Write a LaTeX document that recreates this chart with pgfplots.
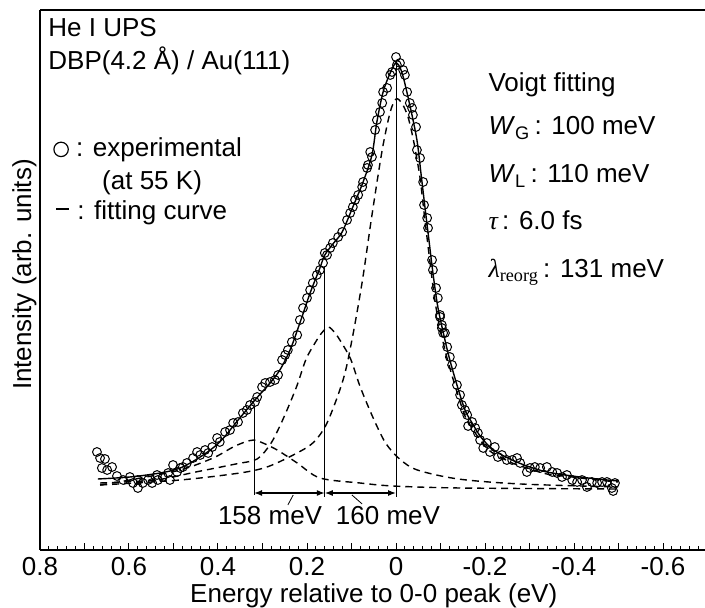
\documentclass[border=0pt]{standalone}
\usepackage{fontspec}
\setmainfont{Liberation Sans}
\newfontfamily\serif{Liberation Serif}
\usepackage{pgfplots}
\pgfplotsset{compat=1.18}
\usetikzlibrary{arrows.meta}

\begin{document}
\begin{tikzpicture}[font=\fontsize{13}{15.6}\selectfont]
\begin{axis}[
  scale only axis,
  width=333.75pt, height=270pt,
  xmin=-0.7, xmax=0.8, ymin=0, ymax=540,
  x dir=reverse,
  axis x line*=box, axis y line*=left,
  xtick pos=left, ytick=\empty,
  xtick={-0.7,-0.6,-0.5,-0.4,-0.3,-0.2,-0.1,0,0.1,0.2,0.3,0.4,0.5,0.6,0.7,0.8},
  xticklabels={,-0.6,,-0.4,,-0.2,,0,,0.2,,0.4,,0.6,,0.8},
  minor x tick num=4,
  major tick length=3.5pt, minor tick length=2pt,
  every tick/.style={black, line width=0.5pt},
  axis line style={line width=0.7pt},
  xlabel={Energy relative to 0-0 peak (eV)},
  ylabel={Intensity (arb. units)},
  xlabel style={at={(axis description cs:0.5,0)}, anchor=base, yshift=-26.5pt},
  ylabel style={at={(axis description cs:-0.0235,0.51)}, anchor=center},
  clip=false,
]

% Voigt components
\addplot[black, line width=0.7pt, dash pattern=on 3.5pt off 2.5pt, smooth] coordinates {
  (0.665,65) (0.485,70) (0.351,77) (0.290,83) (0.231,95) (0.187,107) (0.155,127)
  (0.119,170) (0.099,210) (0.076,268) (0.054,335) (0.031,400) (0.013,438) (0.000,451)
  (-0.013,447) (-0.027,433) (-0.040,408) (-0.054,372) (-0.065,330) (-0.083,264)
  (-0.094,232) (-0.110,200) (-0.121,182) (-0.137,158) (-0.155,134) (-0.171,122)
  (-0.189,110) (-0.211,99) (-0.234,93) (-0.261,87) (-0.294,82) (-0.339,76)
  (-0.396,73) (-0.452,70) (-0.499,68)
};
\addplot[black, line width=0.7pt, dash pattern=on 3.5pt off 2.5pt, smooth] coordinates {
  (0.665,67) (0.54,70) (0.45,78) (0.36,86) (0.312,91) (0.282,106) (0.262,123)
  (0.242,143) (0.222,165) (0.202,191) (0.182,207) (0.167,217) (0.152,223)
  (0.137,217) (0.122,207) (0.102,191) (0.082,165) (0.062,143) (0.042,123)
  (0.022,106) (-0.008,91) (-0.048,80) (-0.14,71) (-0.28,66) (-0.499,63)
};
\addplot[black, line width=0.7pt, dash pattern=on 3.5pt off 2.5pt, smooth] coordinates {
  (0.665,65) (0.598,70) (0.485,80) (0.411,92) (0.366,103) (0.339,108) (0.319,110)
  (0.299,107) (0.267,100) (0.222,87) (0.171,72) (0.081,67) (0.007,64) (-0.144,62)
  (-0.499,61)
};

% fitting curve
\addplot[black, line width=0.7pt, smooth] coordinates {
  (0.670,71) (0.598,73) (0.530,77) (0.485,82) (0.440,93) (0.396,108) (0.351,132)
  (0.317,150) (0.283,167) (0.261,180) (0.238,200) (0.216,227) (0.193,257)
  (0.171,282) (0.160,295) (0.140,307) (0.121,318) (0.097,343) (0.074,368)
  (0.054,395) (0.043,428) (0.029,458) (0.013,477) (0.000,487) (-0.013,478)
  (-0.031,445) (-0.047,410) (-0.056,377) (-0.065,343) (-0.074,310) (-0.083,277)
  (-0.094,243) (-0.110,210) (-0.121,190) (-0.137,165) (-0.155,140) (-0.171,127)
  (-0.189,114) (-0.211,103) (-0.234,96) (-0.261,90) (-0.294,84) (-0.339,78)
  (-0.396,74) (-0.452,71) (-0.499,69)
};

% experimental
\addplot[only marks, mark=o, mark size=2.2pt, mark options={line width=0.5pt}] coordinates {
  (0.672,98) (0.665,92) (0.661,82) (0.654,91) (0.649,80) (0.638,83) (0.627,74)
  (0.613,70) (0.598,73) (0.591,67) (0.580,70) (0.580,62) (0.569,67) (0.557,70)
  (0.548,67) (0.537,75) (0.535,70) (0.524,73) (0.512,77) (0.508,70) (0.501,85)
  (0.492,78) (0.485,82) (0.479,83) (0.470,87) (0.456,92) (0.447,98) (0.440,95)
  (0.429,100) (0.422,97) (0.413,103) (0.402,112) (0.396,108) (0.384,118) (0.373,120)
  (0.366,127) (0.355,128) (0.344,137) (0.335,140) (0.328,145) (0.317,148) (0.312,153)
  (0.301,163) (0.294,167) (0.283,168) (0.272,170) (0.265,175) (0.256,190) (0.249,195)
  (0.243,200) (0.234,208) (0.222,215) (0.216,230) (0.209,242) (0.200,252) (0.193,260)
  (0.187,267) (0.178,275) (0.171,280) (0.164,287) (0.155,295)
  (0.160,297) (0.148,302) (0.142,307) (0.130,313) (0.121,318) (0.110,330) (0.103,337)
  (0.097,343) (0.092,350) (0.085,355) (0.076,363) (0.074,368) (0.065,382) (0.063,385)
  (0.054,393) (0.058,398) (0.047,420) (0.043,430) (0.036,438) (0.031,447) (0.029,458)
  (0.020,462) (0.013,475) (0.009,478) (0.000,493) (-0.009,487) (-0.002,485) (-0.016,480)
  (-0.020,475) (-0.025,458) (-0.031,447) (-0.036,442) (-0.038,435) (-0.045,423)
  (-0.047,400) (-0.054,392) (-0.061,368) (-0.063,345) (-0.070,332) (-0.072,322)
  (-0.081,290) (-0.083,280) (-0.090,262) (-0.094,252) (-0.099,233) (-0.103,222)
  (-0.110,217) (-0.099,235) (-0.103,225) (-0.106,217) (-0.115,203) (-0.121,193)
  (-0.126,185) (-0.137,165) (-0.144,155) (-0.148,145) (-0.155,140) (-0.160,135)
  (-0.162,124) (-0.171,128) (-0.178,122) (-0.184,117) (-0.189,110) (-0.196,102)
  (-0.204,107) (-0.211,98) (-0.222,103) (-0.229,93) (-0.238,95) (-0.249,90)
  (-0.261,90) (-0.272,92) (-0.279,87) (-0.294,78) (-0.301,82) (-0.312,83) (-0.324,82)
  (-0.339,83) (-0.351,78) (-0.362,77) (-0.373,73) (-0.384,75) (-0.396,70) (-0.407,68)
  (-0.418,70) (-0.429,63) (-0.440,68) (-0.452,67) (-0.463,68) (-0.474,68) (-0.485,62)
  (-0.492,67) (-0.488,59)
};

% peak positions and spacings
\draw[line width=0.5pt] (axis cs:0,53) -- (axis cs:0,490);
\draw[line width=0.5pt] (axis cs:0.160,53) -- (axis cs:0.160,283);
\draw[line width=0.5pt] (axis cs:0.319,55) -- (axis cs:0.319,143);
\draw[line width=0.6pt, {Latex[length=4pt,width=3pt]}-{Latex[length=4pt,width=3pt]}]
  (axis cs:0.319,57) -- (axis cs:0.160,57);
\draw[line width=0.6pt, {Latex[length=4pt,width=3pt]}-{Latex[length=4pt,width=3pt]}]
  (axis cs:0.160,57) -- (axis cs:0,57);
\draw[line width=0.4pt] (axis cs:0.231,55) -- (axis cs:0.243,45);
\draw[line width=0.4pt] (axis cs:0.099,55) -- (axis cs:0.076,46);
\node at (axis cs:0.283,34) {158 meV};
\node at (axis cs:0.018,34) {160 meV};

% texts
\node[anchor=base west, inner sep=0pt] at (axis cs:0.782,513) {He I UPS};
\node[anchor=base west, inner sep=0pt] at (axis cs:0.782,480) {DBP(4.2 Å) / Au(111)};
\node[anchor=base west, inner sep=0pt] at (axis cs:0.771,393)
  {\tikz[baseline={(0,-3.8pt)}]\draw[line width=0.6pt] (0,0) circle (3.6pt);\ : experimental};
\node[anchor=base west, inner sep=0pt] at (axis cs:0.661,360) {(at 55 K)};
\node[anchor=base west, inner sep=0pt] at (axis cs:0.766,330)
  {\tikz[baseline={(0,-5.6pt)}]\draw[line width=0.8pt] (0,0) -- (6.5pt,0);\ : fitting curve};
\node[anchor=base west, inner sep=0pt] at (axis cs:-0.207,458) {Voigt fitting};
\node[anchor=base west, inner sep=0pt] at (axis cs:-0.207,415) {\textit{W}\textsubscript{G}\,: 100 meV};
\node[anchor=base west, inner sep=0pt] at (axis cs:-0.207,367) {\textit{W}\textsubscript{L}\,: 110 meV};
\node[anchor=base west, inner sep=0pt] at (axis cs:-0.207,320) {{\serif\itshape τ}\,: 6.0 fs};
\node[anchor=base west, inner sep=0pt] at (axis cs:-0.207,272) {{\serif\itshape λ}\textsubscript{\serif reorg}\,: 131 meV};
\end{axis}
\pgfresetboundingbox
\path (-20pt,-29pt) rectangle (332.5pt,275pt);
\end{tikzpicture}
\end{document}
